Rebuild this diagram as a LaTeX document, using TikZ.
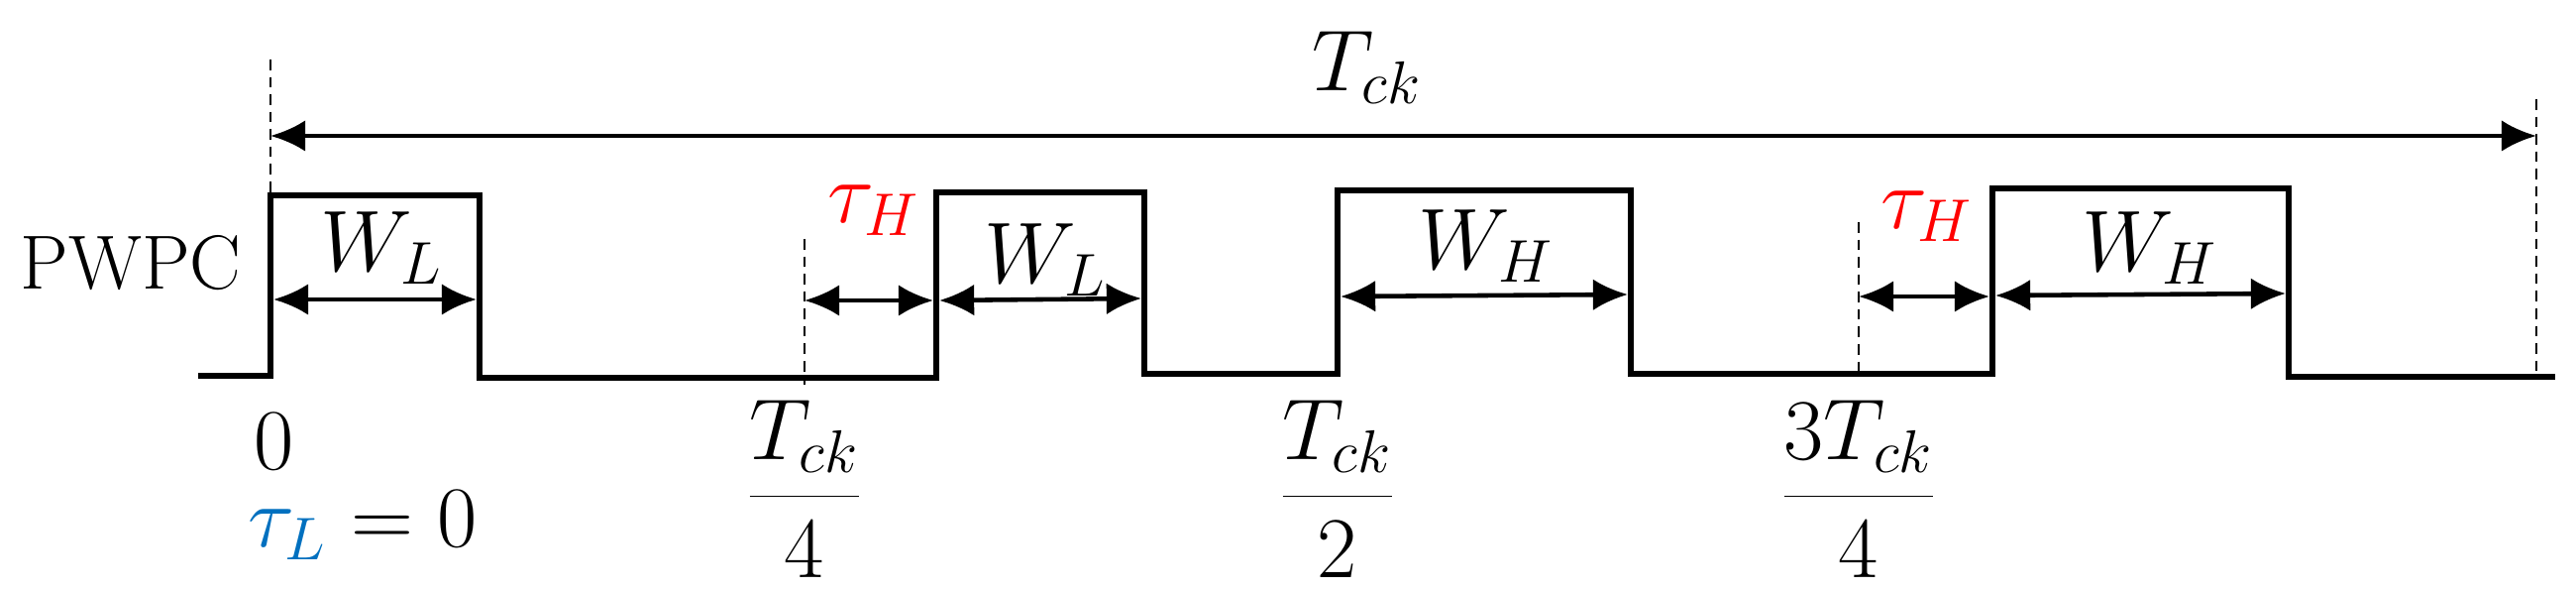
\documentclass[tikz,border=0pt]{standalone}
\usetikzlibrary{arrows.meta}
\begin{document}
\begin{tikzpicture}[x=0.01cm,y=-0.01cm,
  wave/.style={line width=1.8pt,line join=miter},
  dim/.style={line width=1.3pt,{Latex[length=10pt,width=9pt]}-{Latex[length=10pt,width=9pt]}},
  guide/.style={densely dashed,line width=0.4pt},
  lbl/.style={font=\fontsize{24}{28}\selectfont},
  redlbl/.style={text=red}]
\useasboundingbox (0,0) rectangle (2600,595);
% waveform coordinates
\coordinate (s) at (200,379);
\coordinate (r1b) at (273,379); \coordinate (r1t) at (273,197);
\coordinate (f1t) at (484,197); \coordinate (f1b) at (484,381);
\coordinate (r2b) at (945,381); \coordinate (r2t) at (945,194);
\coordinate (f2t) at (1155,194); \coordinate (f2b) at (1155,377);
\coordinate (r3b) at (1350,377); \coordinate (r3t) at (1350,192);
\coordinate (f3t) at (1646,192); \coordinate (f3b) at (1646,377);
\coordinate (r4b) at (2011,377); \coordinate (r4t) at (2011,190);
\coordinate (f4t) at (2310,190); \coordinate (f4b) at (2310,380);
\coordinate (e) at (2579,380);
\draw[wave] (s)--(r1b)--(r1t)--(f1t)--(f1b)--(r2b)--(r2t)--(f2t)--(f2b)--(r3b)--(r3t)--(f3t)--(f3b)--(r4b)--(r4t)--(f4t)--(f4b)--(e);
% guides
\coordinate (g0t) at (273,60); \coordinate (g0b) at (273,197);
\coordinate (g1t) at (812,241); \coordinate (g1b) at (812,388);
\coordinate (g3t) at (1876,224); \coordinate (g3b) at (1876,377);
\coordinate (gEt) at (2560,100); \coordinate (gEb) at (2560,380);
\draw[guide] (g0t)--(g0b); \draw[guide] (g1t)--(g1b);
\draw[guide] (g3t)--(g3b); \draw[guide] (gEt)--(gEb);
% dimension arrows
\coordinate (a0) at (273,137); \coordinate (a1) at (2560,137);
\draw[dim] (a0)--(a1);
\coordinate (w1a) at (276,302); \coordinate (w1b) at (481,302);
\draw[dim] (w1a)--(w1b);
\coordinate (t1a) at (812,303); \coordinate (t1b) at (942,303);
\draw[dim] (t1a)--(t1b);
\coordinate (w2a) at (948,303); \coordinate (w2b) at (1152,301);
\draw[dim] (w2a)--(w2b);
\coordinate (w3a) at (1353,299); \coordinate (w3b) at (1643,297);
\draw[dim] (w3a)--(w3b);
\coordinate (t3a) at (1876,299); \coordinate (t3b) at (2008,299);
\draw[dim] (t3a)--(t3b);
\coordinate (w4a) at (2014,298); \coordinate (w4b) at (2307,296);
\draw[dim] (w4a)--(w4b);
% labels
\node[lbl] (tck) at (1380,68) {$T_{ck}$};
\node[font=\fontsize{22}{26}\selectfont] (pwpc) at (132,265) {PWPC};
\node[lbl] (lw1) at (385,250) {$W_L$};
\node[lbl,redlbl] (th1) at (882,212) {$\tau_H$};
\node[lbl] (lw2) at (1055,262) {$W_L$};
\node[lbl] (lw3) at (1500,248) {$W_H$};
\node[lbl,redlbl] (th2) at (1945,218) {$\tau_H$};
\node[lbl] (lw4) at (2170,250) {$W_H$};
\node[lbl] (zero) at (277,445) {$0$};
\node[lbl,anchor=west] (tl) at (238,530) {$\textcolor[rgb]{0,0.44,0.75}{\tau_L}=0$};
\node[lbl] (q1) at (812,493) {$\displaystyle\frac{T_{ck}}{4}$};
\node[lbl] (q2) at (1350,493) {$\displaystyle\frac{T_{ck}}{2}$};
\node[lbl] (q3) at (1876,493) {$\displaystyle\frac{3T_{ck}}{4}$};
\end{tikzpicture}
\end{document}
